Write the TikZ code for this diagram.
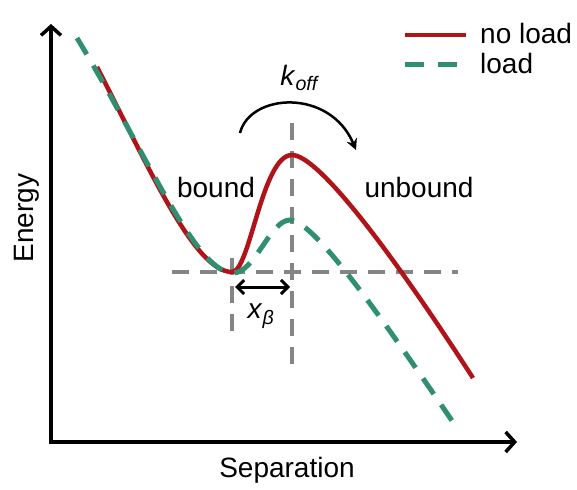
\documentclass[tikz,border=0pt]{standalone}
\usepackage{fontspec}
\setmainfont{Liberation Sans}
\usetikzlibrary{arrows.meta}
\definecolor{curvered}{HTML}{B01318}
\definecolor{curvegreen}{HTML}{2F8F6F}
\definecolor{guidegray}{HTML}{858585}
\tikzset{
  axisline/.style={line width=3.5pt, -{Straight Barb[length=9pt,width=20pt,line width=3.5pt]}},
  noload/.style={curvered, line width=4.5pt, line cap=butt},
  withload/.style={curvegreen, line width=5pt, dash pattern=on 19pt off 13pt},
  guide/.style={guidegray, line width=3.5pt, dash pattern=on 17pt off 11pt},
  lbl/.style={font=\fontsize{28}{33}\selectfont, inner sep=0pt},
}
\begin{document}
\begin{tikzpicture}[x=1pt,y=-1pt]
\useasboundingbox (0,0) rectangle (577,489);
% guides
\coordinate (hL) at (172,272);
\coordinate (hR) at (458,272);
\coordinate (v1T) at (232,258);
\coordinate (v1B) at (232,334);
\coordinate (v2T) at (292,123);
\coordinate (v2B) at (292,368);
\draw[guide] (hL) -- (hR);
\draw[guide] (v1T) -- (v1B);
\draw[guide] (v2T) -- (v2B);
% curves
\coordinate (rS) at (97,67);
\coordinate (rMin) at (232,272);
\coordinate (rPk) at (292,155);
\coordinate (rE) at (473,378);
\draw[noload] (rS) .. controls (150,170) and (195,272) .. (rMin)
  .. controls (250,272) and (262,155) .. (rPk)
  .. controls (320,155) and (400,265) .. (rE);
\coordinate (gS) at (77,38);
\coordinate (gMin) at (233,273);
\coordinate (gPk) at (290,220);
\coordinate (gE) at (457,428);
\draw[withload] (gS) .. controls (145,150) and (195,273) .. (gMin)
  .. controls (255,273) and (270,220) .. (gPk)
  .. controls (315,220) and (390,330) .. (gE);
% axes
\coordinate (O) at (51,442);
\coordinate (yTop) at (51,24);
\coordinate (xEnd) at (517,442);
\draw[axisline] ([yshift=1.75pt]O) -- (yTop);
\draw[axisline] ([xshift=-1.75pt]O) -- (xEnd);
\node[lbl, rotate=90] (energy) at (27,218) {Energy};
\node[lbl] (sep) at (287,470) {Separation};
% labels
\node[lbl] (bound) at (216,187) {bound};
\node[lbl] (unbound) at (419,187) {unbound};
\node[lbl] (koff) at (300,78) {\textit{k}\textsubscript{\textit{off}}};
\coordinate (arcS) at (240,133);
\coordinate (arcE) at (356,150);
\draw[line width=2.5pt, -{Stealth[length=11pt,width=11pt]}] (arcS) .. controls (250,93) and (330,88) .. (arcE);
% x_beta
\coordinate (xbL) at (235,287);
\coordinate (xbR) at (290,287);
\draw[line width=3pt, {Straight Barb[length=7pt,width=14pt,line width=3pt]}-{Straight Barb[length=7pt,width=14pt,line width=3pt]}] (xbL) -- (xbR);
\node[lbl] (xb) at (261,316) {\textit{x}\textsubscript{\textit{β}}};
% legend
\coordinate (l1a) at (405,35); \coordinate (l1b) at (466,35);
\coordinate (l2a) at (405,65); \coordinate (l2b) at (460,65);
\draw[noload] (l1a) -- (l1b);
\draw[withload, dash pattern=on 19pt off 14pt] (l2a) -- (l2b);
\node[lbl, anchor=west] (t1) at (480,33) {no load};
\node[lbl, anchor=west] (t2) at (480,63) {load};
\end{tikzpicture}
\end{document}
